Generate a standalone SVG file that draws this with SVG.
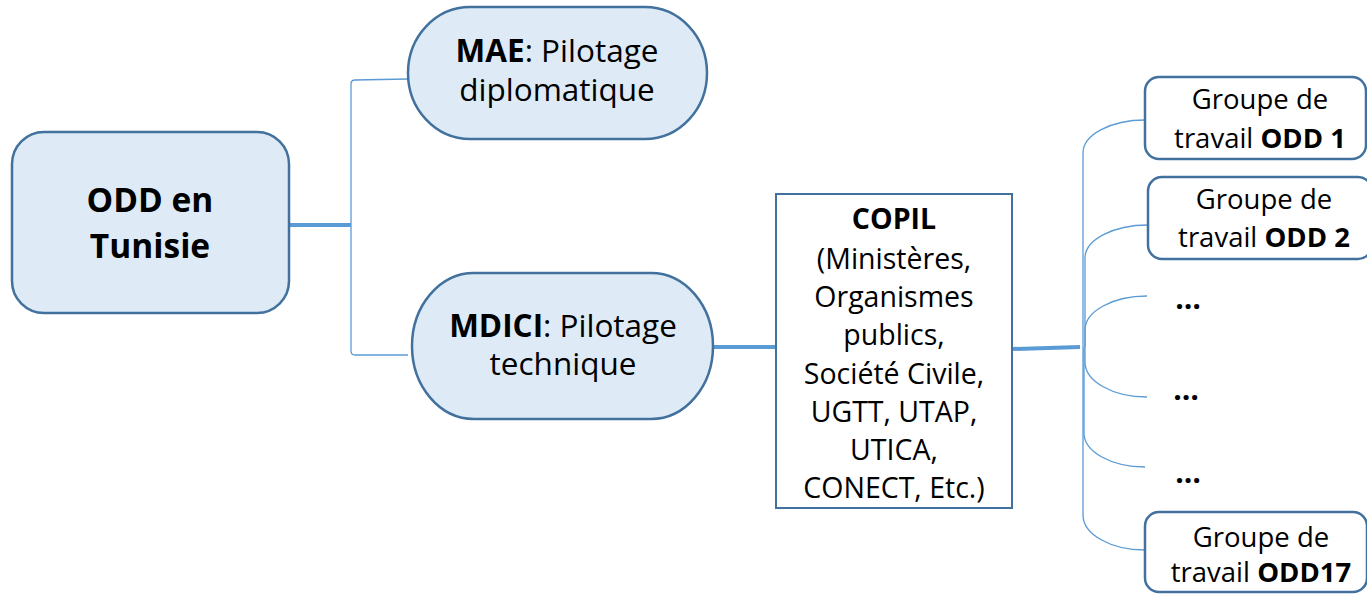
<svg xmlns="http://www.w3.org/2000/svg" width="1367" height="594" viewBox="0 0 1367 594">
<style>
  .node { fill: #DEEBF7; stroke: #41719C; stroke-width: 2.5; }
  .box { fill: #FFFFFF; stroke: #41719C; stroke-width: 2.5; }
  .copil { fill: #FFFFFF; stroke: #41719C; stroke-width: 2; }
  .thin { fill: none; stroke: #5B9BD5; stroke-width: 1.3; }
  .thick { fill: none; stroke: #5B9BD5; stroke-width: 4; }
  text { font-family: "Open Sans", "Liberation Sans", sans-serif; fill: #000000; text-anchor: middle; }
  .b { font-weight: bold; }
  .main { font-size: 33.5px; font-weight: bold; }
  .pil { font-size: 31.5px; }
  .cp { font-size: 28.5px; }
  .gr { font-size: 27.5px; }
  .dots { font-size: 30px; font-weight: bold; }
</style>
<g id="connectors">
  <line class="thick" x1="289" y1="225" x2="351" y2="225"/>
  <path class="thin" d="M408,79 L355,80 Q351,80 351,84 L351,351 Q351,355 355,355 L408,355"/>
  <line class="thick" x1="713" y1="347" x2="776" y2="347"/>
  <line class="thick" x1="1012" y1="349" x2="1080" y2="347"/>
  <path class="thin" d="M1083,347 L1083,153 A62,33 0 0 1 1145,120"/>
  <path class="thin" d="M1085,347 L1085,258 A63,33 0 0 1 1148,225"/>
  <path class="thin" d="M1085,347 L1085,330 A62,34 0 0 1 1147,296"/>
  <path class="thin" d="M1085,347 L1085,362 A62,35 0 0 0 1147,397"/>
  <path class="thin" d="M1084,347 L1084,433 A61,34 0 0 0 1145,467"/>
  <path class="thin" d="M1083,347 L1083,515 A62,35 0 0 0 1145,550"/>
</g>
<g id="odd-tunisie">
  <rect class="node" x="12" y="132" width="277" height="181" rx="32" ry="32"/>
  <text x="150" y="212" class="main">ODD en</text>
  <text x="150" y="258" class="main">Tunisie</text>
</g>
<g id="mae">
  <rect class="node" x="408" y="7" width="299" height="132" rx="62" ry="66"/>
  <text x="557" y="62" class="pil"><tspan class="b">MAE</tspan>: Pilotage</text>
  <text x="557" y="101" class="pil">diplomatique</text>
</g>
<g id="mdici">
  <rect class="node" x="412" y="273" width="301" height="146" rx="62" ry="73"/>
  <text x="563" y="337" class="pil"><tspan class="b">MDICI</tspan>: Pilotage</text>
  <text x="563" y="375" class="pil">technique</text>
</g>
<g id="copil">
  <rect class="copil" x="776" y="194" width="236" height="314"/>
  <text x="894" y="229" class="cp b">COPIL</text>
  <text x="894" y="269" class="cp">(Ministères,</text>
  <text x="894" y="307" class="cp">Organismes</text>
  <text x="894" y="345" class="cp">publics,</text>
  <text x="894" y="384" class="cp">Société Civile,</text>
  <text x="894" y="422" class="cp">UGTT, UTAP,</text>
  <text x="894" y="460" class="cp">UTICA,</text>
  <text x="894" y="498" class="cp">CONECT, Etc.)</text>
</g>
<g id="odd1">
  <rect class="box" x="1145" y="77" width="221" height="82" rx="14" ry="14"/>
  <text x="1260" y="109" class="gr">Groupe de</text>
  <text x="1260" y="148" class="gr">travail <tspan class="b">ODD 1</tspan></text>
</g>
<g id="odd2">
  <rect class="box" x="1148" y="177" width="224" height="82" rx="14" ry="14"/>
  <text x="1264" y="209" class="gr">Groupe de</text>
  <text x="1264" y="247" class="gr">travail <tspan class="b">ODD 2</tspan></text>
</g>
<g id="dots1">
  <text x="1188" y="309" class="dots">…</text>
</g>
<g id="dots2">
  <text x="1186" y="400" class="dots">…</text>
</g>
<g id="dots3">
  <text x="1188" y="483" class="dots">…</text>
</g>
<g id="odd17">
  <rect class="box" x="1145" y="512" width="222" height="80" rx="14" ry="14"/>
  <text x="1261" y="547" class="gr">Groupe de</text>
  <text x="1261" y="582" class="gr">travail <tspan class="b">ODD17</tspan></text>
</g>
</svg>
